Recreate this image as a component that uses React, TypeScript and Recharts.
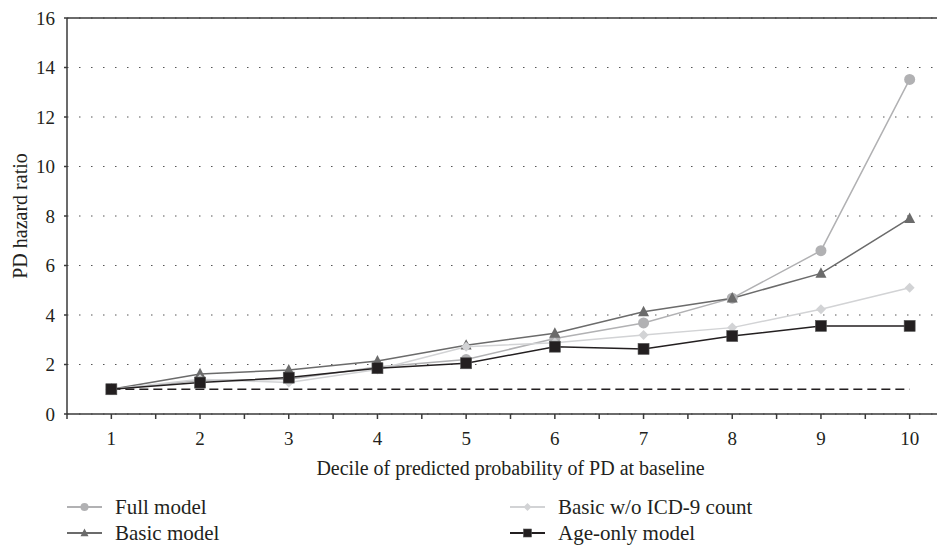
import React from 'react';
import { LineChart, Line, XAxis, YAxis, CartesianGrid, ReferenceLine } from 'recharts';

// deciles of predicted probability
const deciles = [1, 2, 3, 4, 5, 6, 7, 8, 9, 10];

// hazard ratios
const fullModel = [1.0, 1.35, 1.4, 1.9, 2.2, 3.05, 3.68, 4.68, 6.6, 13.52];
const basicModel = [1.0, 1.62, 1.78, 2.14, 2.78, 3.26, 4.13, 4.68, 5.68, 7.9];
const basicNoIcd = [1.0, 1.4, 1.27, 1.8, 2.72, 2.88, 3.19, 3.49, 4.23, 5.1];
const ageOnly = [1.0, 1.27, 1.47, 1.85, 2.05, 2.72, 2.63, 3.15, 3.56, 3.56];
const reference = [1, 1, 1, 1, 1, 1, 1, 1, 1, 1];

const xTicks = [0.5, 1, 1.5, 2, 2.5, 3, 3.5, 4, 4.5, 5, 5.5, 6, 6.5, 7, 7.5, 8, 8.5, 9, 9.5, 10, 10.5];
const yTicks = [0, 2, 4, 6, 8, 10, 12, 14, 16];

const FONT = "Liberation Serif, Times New Roman, Tinos, DejaVu Serif, Times, serif";
const INK = '#231f20';

const data = deciles.map((d, i) => ({
  decile: d,
  full: fullModel[i],
  basic: basicModel[i],
  basicWo: basicNoIcd[i],
  age: ageOnly[i],
  ref: reference[i],
}));

const Circle = ({ cx, cy, fill, r = 5.5 }: any) =>
  cx == null ? null : <circle cx={cx} cy={cy} r={r} fill={fill} />;

const Triangle = ({ cx, cy, fill, s = 11 }: any) =>
  cx == null ? null : (
    <polygon
      points={`${cx},${cy - s * 0.55} ${cx - s / 2},${cy + s * 0.4} ${cx + s / 2},${cy + s * 0.4}`}
      fill={fill}
    />
  );

const Diamond = ({ cx, cy, fill, s = 10 }: any) =>
  cx == null ? null : (
    <polygon
      points={`${cx},${cy - s / 2} ${cx + s / 2},${cy} ${cx},${cy + s / 2} ${cx - s / 2},${cy}`}
      fill={fill}
    />
  );

const Square = ({ cx, cy, fill, s = 11 }: any) =>
  cx == null ? null : <rect x={cx - s / 2} y={cy - s / 2} width={s} height={s} fill={fill} stroke="#555" strokeWidth={0.6} />;

const series = [
  { key: 'full', name: 'Full model', color: '#b1b1b3', Shape: Circle },
  { key: 'basic', name: 'Basic model', color: '#6b6b6b', Shape: Triangle },
  { key: 'basicWo', name: 'Basic w/o ICD-9 count', color: '#d2d3d5', Shape: Diamond },
  { key: 'age', name: 'Age-only model', color: INK, Shape: Square },
];

const legendCols = [
  [series[0], series[1]],
  [series[2], series[3]],
];

const LegendItem = ({ s }: any) => {
  const Shape = s.Shape;
  return (
    <div style={{ display: 'flex', alignItems: 'center', height: 26 }}>
      <svg width={48} height={20}>
        <line x1={0} y1={10} x2={35} y2={10} stroke={s.color} strokeWidth={1.8} />
        <Shape cx={17.5} cy={10} fill={s.color} r={4} s={8} />
      </svg>
      <span style={{ fontSize: 21, color: INK, lineHeight: '26px' }}>{s.name}</span>
    </div>
  );
};

export default function App() {
  return (
    <div style={{ position: 'relative', marginLeft: -8, marginTop: -8, width: 945, height: 546, overflow: 'hidden', background: '#fff', fontFamily: FONT }}>
      <LineChart width={985} height={480} data={data} margin={{ top: 18, right: 31, left: 0, bottom: 0 }} style={{ fontFamily: FONT }}>
        <CartesianGrid vertical={false} stroke="#555" strokeDasharray="1.5 10.5" />
        <XAxis
          dataKey="decile"
          type="number"
          domain={[0.5, 10.5]}
          ticks={xTicks}
          interval={0}
          tickFormatter={(v: number) => (Number.isInteger(v) ? String(v) : '')}
          height={66}
          tickSize={5}
          tickMargin={13}
          stroke="#3a3a3a"
          strokeWidth={1.5}
          tick={{ fill: INK, fontSize: 19, fontFamily: FONT }}
          label={{
            value: 'Decile of predicted probability of PD at baseline',
            position: 'insideBottom',
            offset: 5,
            style: { fill: INK, fontSize: 20, fontFamily: FONT },
          }}
        />
        <YAxis
          domain={[0, 16]}
          ticks={yTicks}
          interval={0}
          width={67}
          tickSize={3}
          tickMargin={9}
          stroke="#3a3a3a"
          strokeWidth={1.5}
          tick={{ fill: INK, fontSize: 19, fontFamily: FONT }}
          label={{
            value: 'PD hazard ratio',
            angle: -90,
            position: 'insideLeft',
            offset: 20,
            style: { textAnchor: 'middle', fill: INK, fontSize: 20, fontFamily: FONT },
          }}
        />
        <ReferenceLine y={16} stroke="#3a3a3a" strokeWidth={1.5} />
        <Line
          dataKey="ref"
          stroke={INK}
          strokeWidth={1.5}
          strokeDasharray="9 5"
          dot={false}
          activeDot={false}
          legendType="none"
          isAnimationActive={false}
        />
        {series.map(s => (
          <Line
            key={s.key}
            dataKey={s.key}
            name={s.name}
            stroke={s.color}
            strokeWidth={1.5}
            dot={(p: any) => <s.Shape key={`${s.key}-${p.index}`} cx={p.cx} cy={p.cy} fill={s.color} />}
            activeDot={false}
            isAnimationActive={false}
          />
        ))}
      </LineChart>
      {legendCols.map((col, ci) => (
        <div key={ci} style={{ position: 'absolute', left: ci === 0 ? 67 : 510, top: 494 }}>
          {col.map(s => (
            <LegendItem key={s.key} s={s} />
          ))}
        </div>
      ))}
    </div>
  );
}
